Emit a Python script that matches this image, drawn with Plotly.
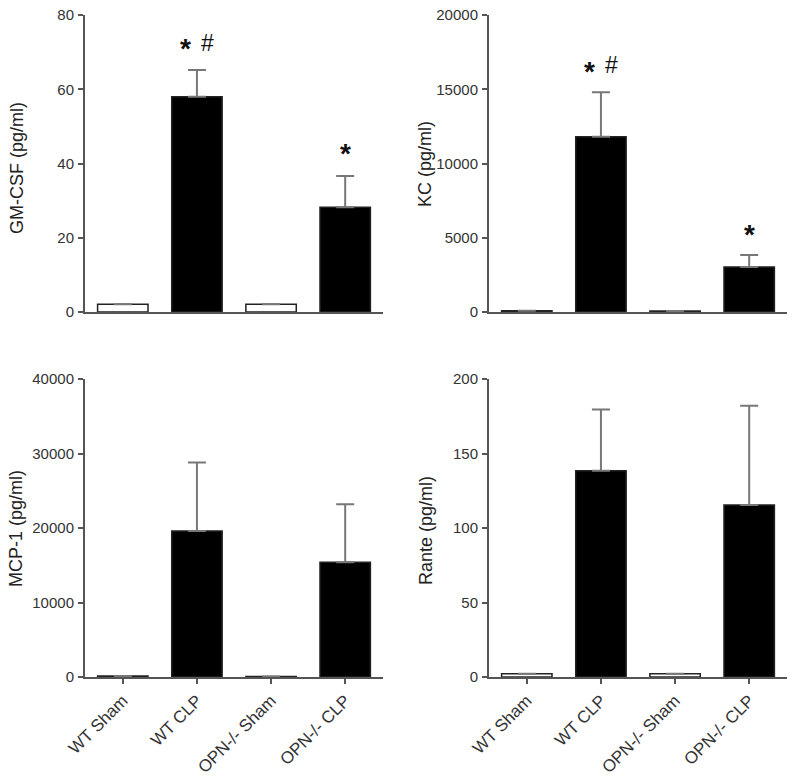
import plotly.graph_objects as go

categories = ["WT Sham", "WT CLP", "OPN-/- Sham", "OPN-/- CLP"]

gmcsf_mean = [2.1, 58.0, 2.1, 28.2]
gmcsf_err = [0, 7.2, 0, 8.4]

kc_mean = [80, 11800, 60, 3030]
kc_err = [0, 3000, 0, 800]

mcp1_mean = [120, 19600, 60, 15400]
mcp1_err = [0, 9200, 0, 7800]

rante_mean = [2.2, 138.5, 2.2, 115.5]
rante_err = [0, 41, 0, 66.5]

fills = ["white", "black", "white", "black"]

FONT = "Liberation Sans, Arial"

W, H = 800, 777


def xdom(a, b):
    return [a / W, b / W]


def ydom(top, bottom):
    return [(H - bottom) / H, (H - top) / H]


panels = [
    dict(mean=gmcsf_mean, err=gmcsf_err, title="GM-CSF (pg/ml)", yr=[0, 80], dt=20,
         xd=xdom(85, 383), yd=ydom(15, 312), labels=False,
         marks=[("WT CLP", 72.5, "*  #"), ("OPN-/- CLP", 44.2, "*")], tx=17, ty=168),
    dict(mean=kc_mean, err=kc_err, title="KC (pg/ml)", yr=[0, 20000], dt=5000,
         xd=xdom(489, 787), yd=ydom(15, 312), labels=False,
         marks=[("WT CLP", 16630, "*  #"), ("OPN-/- CLP", 5590, "*")], tx=425, ty=164),
    dict(mean=mcp1_mean, err=mcp1_err, title="MCP-1 (pg/ml)", yr=[0, 40000], dt=10000,
         xd=xdom(85, 383), yd=ydom(379, 677), labels=True,
         marks=[], tx=16, ty=529),
    dict(mean=rante_mean, err=rante_err, title="Rante (pg/ml)", yr=[0, 200], dt=50,
         xd=xdom(489, 787), yd=ydom(379, 677), labels=True,
         marks=[("WT CLP", 205, "*")], tx=426, ty=531),
]

fig = go.Figure()
axcol = "#555555"
for i, p in enumerate(panels):
    n = "" if i == 0 else str(i + 1)
    xa, ya = "x" + n, "y" + n
    fig.add_trace(go.Bar(
        x=categories, y=p["mean"], xaxis=xa, yaxis=ya, width=0.68,
        marker=dict(color=fills, line=dict(color="#222222", width=1.5)),
        error_y=dict(type="data", array=p["err"], arrayminus=[0] * 4, symmetric=False,
                     color="#777777", thickness=2, width=9),
        showlegend=False,
    ))
    fig.layout["xaxis" + n] = dict(
        domain=p["xd"], anchor=ya, type="category", range=[-0.51, 3.51], automargin=False,
        showline=True, linecolor=axcol, linewidth=2, showgrid=False, zeroline=False,
        ticks="outside" if p["labels"] else "", ticklen=5, tickcolor=axcol, tickwidth=1.5,
        showticklabels=p["labels"], tickangle=-45, ticklabeloverflow="allow",
        tickfont=dict(family=FONT, size=17, color="#333333"),
    )
    fig.layout["yaxis" + n] = dict(
        domain=p["yd"], anchor=xa, range=p["yr"], dtick=p["dt"], tickformat="d",
        automargin=False, ticklabeloverflow="allow",
        showline=True, linecolor=axcol, linewidth=2, showgrid=False, zeroline=False,
        ticks="outside", ticklen=5, tickcolor=axcol, tickwidth=1.5, ticklabelstandoff=1,
        tickfont=dict(family=FONT, size=15, color="#333333"),
    )
    for cat, yv, txt in p["marks"]:
        if "#" in txt:
            fig.add_annotation(x=cat, y=yv, xref=xa, yref=ya, text="<b>*</b>", showarrow=False,
                               xshift=-11, yshift=-6,
                               font=dict(family=FONT, size=28, color="#111111"))
            fig.add_annotation(x=cat, y=yv, xref=xa, yref=ya, text="#", showarrow=False,
                               xshift=11,
                               font=dict(family=FONT, size=23, color="#111111"))
        else:
            fig.add_annotation(x=cat, y=yv, xref=xa, yref=ya, text="<b>*</b>", showarrow=False,
                               yshift=-6,
                               font=dict(family=FONT, size=28, color="#111111"))
    fig.add_annotation(x=p["tx"] / W, y=1 - p["ty"] / H,
                       xref="paper", yref="paper", xanchor="center", yanchor="middle",
                       text=p["title"], textangle=-90, showarrow=False,
                       font=dict(family=FONT, size=18, color="#222222"))

fig.update_layout(width=W, height=H, margin=dict(l=0, r=0, t=0, b=0, autoexpand=False),
                  plot_bgcolor="white", paper_bgcolor="white", bargap=0.3)
fig.write_html("out.html", config={"displayModeBar": False},
               post_script="document.body.style.margin='0';document.body.style.overflow='hidden';")
